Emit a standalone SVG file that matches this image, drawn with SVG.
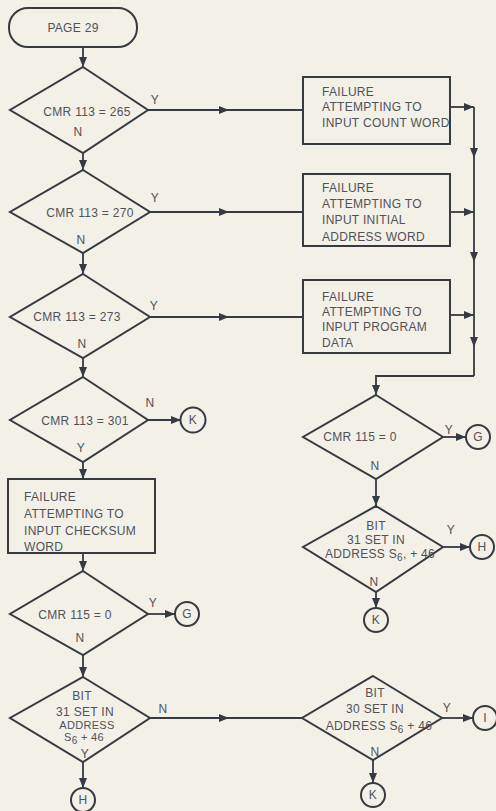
<svg xmlns="http://www.w3.org/2000/svg" width="496" height="811" viewBox="0 0 496 811">
<defs>
<marker id="ah" markerUnits="userSpaceOnUse" markerWidth="11" markerHeight="9" refX="10" refY="4" orient="auto">
<path d="M0,0 L10,4 L0,8 z" fill="#363a42"/>
</marker>
</defs>
<style>
.s{fill:none;stroke:#363a42;stroke-width:2;stroke-linejoin:miter}
.c{fill:none;stroke:#363a42;stroke-width:1.8}
.a{marker-end:url(#ah)}
.m{marker-mid:url(#ah)}
text{font-family:"Liberation Sans",Arial,sans-serif;font-size:12px;fill:#505258;letter-spacing:0.3px}
.t{text-anchor:middle}
.sm{font-size:11px}
.sub{font-size:10px}
</style>
<rect width="496" height="811" fill="#f3f0e8"/>
<g id="connectors">
<path class="c a" d="M83 47 L83 67"/>
<path class="c m" d="M148 110 L229 110 L303 110"/>
<path class="c a" d="M83 153 L83 170"/>
<path class="c m" d="M150 212 L229 212 L303 212"/>
<path class="c a" d="M83 253 L83 274"/>
<path class="c m" d="M150 317 L229 317 L303 317"/>
<path class="c a" d="M83 358 L83 377"/>
<path class="c a" d="M148 420 L181 420"/>
<path class="c a" d="M83 462 L83 479"/>
<path class="c a" d="M83 553 L83 571"/>
<path class="c a" d="M148 614 L175 614"/>
<path class="c a" d="M83 655 L83 677"/>
<path class="c a" d="M83 762 L83 788"/>
<path class="c m" d="M150 718 L229 718 L302 718"/>
<path class="c a" d="M442 718 L473 718"/>
<path class="c a" d="M373 760 L373 783"/>
<path class="c a" d="M450 107 L474 107"/>
<path class="c a" d="M450 212 L474 212"/>
<path class="c a" d="M450 315 L474 315"/>
<path class="c m" d="M474 107 L474 158 L474 262 L474 347 L474 376"/>
<path class="c a" d="M474 376 L376 376 L376 395"/>
<path class="c a" d="M443 437 L466 437"/>
<path class="c a" d="M376 479 L376 506"/>
<path class="c a" d="M443 547 L470 547"/>
<path class="c a" d="M376 592 L376 608"/>
</g>
<g id="start">
<rect class="s" x="9" y="8" width="128" height="39" rx="19"/>
<text class="t" x="73" y="32">PAGE 29</text>
</g>
<g id="d1">
<path class="s" d="M83 67 L148 110 L83 153 L10 110 Z"/>
<text class="t" x="87" y="116">CMR 113 = 265</text>
<text class="t" x="78" y="136">N</text>
<text class="t" x="155" y="104">Y</text>
</g>
<g id="b1">
<rect class="s" x="303" y="77" width="147" height="67"/>
<text x="322" y="96">FAILURE</text>
<text x="322" y="111">ATTEMPTING TO</text>
<text x="322" y="127">INPUT COUNT WORD</text>
</g>
<g id="d2">
<path class="s" d="M83 170 L150 212 L83 253 L10 212 Z"/>
<text class="t" x="90" y="217">CMR 113 = 270</text>
<text class="t" x="81" y="244">N</text>
<text class="t" x="155" y="202">Y</text>
</g>
<g id="b2">
<rect class="s" x="303" y="174" width="147" height="72"/>
<text x="322" y="192">FAILURE</text>
<text x="322" y="208">ATTEMPTING TO</text>
<text x="322" y="224">INPUT INITIAL</text>
<text x="322" y="241">ADDRESS WORD</text>
</g>
<g id="d3">
<path class="s" d="M83 274 L150 317 L83 358 L10 317 Z"/>
<text class="t" x="77" y="321">CMR 113 = 273</text>
<text class="t" x="82" y="348">N</text>
<text class="t" x="154" y="310">Y</text>
</g>
<g id="b3">
<rect class="s" x="303" y="280" width="147" height="73"/>
<text x="322" y="301">FAILURE</text>
<text x="322" y="316">ATTEMPTING TO</text>
<text x="322" y="331">INPUT PROGRAM</text>
<text x="322" y="347">DATA</text>
</g>
<g id="d4">
<path class="s" d="M83 377 L148 420 L83 462 L10 420 Z"/>
<text class="t" x="85" y="425">CMR 113 = 301</text>
<text class="t" x="150" y="407">N</text>
<text class="t" x="81" y="452">Y</text>
</g>
<g id="k1">
<circle class="s" cx="193" cy="420" r="12.5"/>
<text class="t" x="193" y="424">K</text>
</g>
<g id="b4">
<rect class="s" x="8" y="479" width="147" height="74"/>
<text x="24" y="501">FAILURE</text>
<text x="24" y="518">ATTEMPTING TO</text>
<text x="24" y="535">INPUT CHECKSUM</text>
<text x="24" y="551">WORD</text>
</g>
<g id="d5">
<path class="s" d="M83 571 L148 614 L83 655 L10 614 Z"/>
<text class="t" x="75" y="619">CMR 115 = 0</text>
<text class="t" x="80" y="642">N</text>
<text class="t" x="153" y="607">Y</text>
</g>
<g id="g1">
<circle class="s" cx="187" cy="614" r="12"/>
<text class="t" x="187" y="618">G</text>
</g>
<g id="d6">
<path class="s" d="M83 677 L150 718 L83 762 L10 718 Z"/>
<text class="t" x="82" y="700">BIT</text>
<text class="t" x="85" y="716">31 SET IN</text>
<text class="t sm" x="87" y="729">ADDRESS</text>
<text class="t sm" x="84" y="741">S<tspan class="sub" dy="3">6</tspan><tspan dy="-3"> + 46</tspan></text>
<text class="t" x="85" y="758">Y</text>
<text class="t" x="163" y="713">N</text>
</g>
<g id="h1">
<circle class="s" cx="83" cy="800" r="12"/>
<text class="t" x="83" y="804">H</text>
</g>
<g id="d7">
<path class="s" d="M373 676 L442 718 L373 760 L302 718 Z"/>
<text class="t" x="375" y="697">BIT</text>
<text class="t" x="375" y="713">30 SET IN</text>
<text class="t" x="379" y="730">ADDRESS S<tspan class="sub" dy="3">6</tspan><tspan dy="-3"> + 46</tspan></text>
<text class="t" x="375" y="756">N</text>
<text class="t" x="447" y="712">Y</text>
</g>
<g id="i1">
<circle class="s" cx="485" cy="718" r="12"/>
<text class="t" x="485" y="722">I</text>
</g>
<g id="k3">
<circle class="s" cx="373" cy="795" r="12"/>
<text class="t" x="373" y="799">K</text>
</g>
<g id="d8">
<path class="s" d="M376 395 L443 437 L376 479 L303 437 Z"/>
<text class="t" x="360" y="441">CMR 115 = 0</text>
<text class="t" x="375" y="470">N</text>
<text class="t" x="449" y="434">Y</text>
</g>
<g id="g2">
<circle class="s" cx="478" cy="437" r="12"/>
<text class="t" x="478" y="441">G</text>
</g>
<g id="d9">
<path class="s" d="M376 506 L443 547 L376 592 L303 547 Z"/>
<text class="t" x="376" y="530">BIT</text>
<text class="t" x="376" y="544">31 SET IN</text>
<text class="t" x="380" y="558">ADDRESS S<tspan class="sub" dy="3">6</tspan><tspan dy="-3">, + 46</tspan></text>
<text class="t" x="374" y="586">N</text>
<text class="t" x="451" y="534">Y</text>
</g>
<g id="h2">
<circle class="s" cx="482" cy="547" r="12"/>
<text class="t" x="482" y="551">H</text>
</g>
<g id="k2">
<circle class="s" cx="376" cy="620" r="12"/>
<text class="t" x="376" y="624">K</text>
</g>
</svg>
